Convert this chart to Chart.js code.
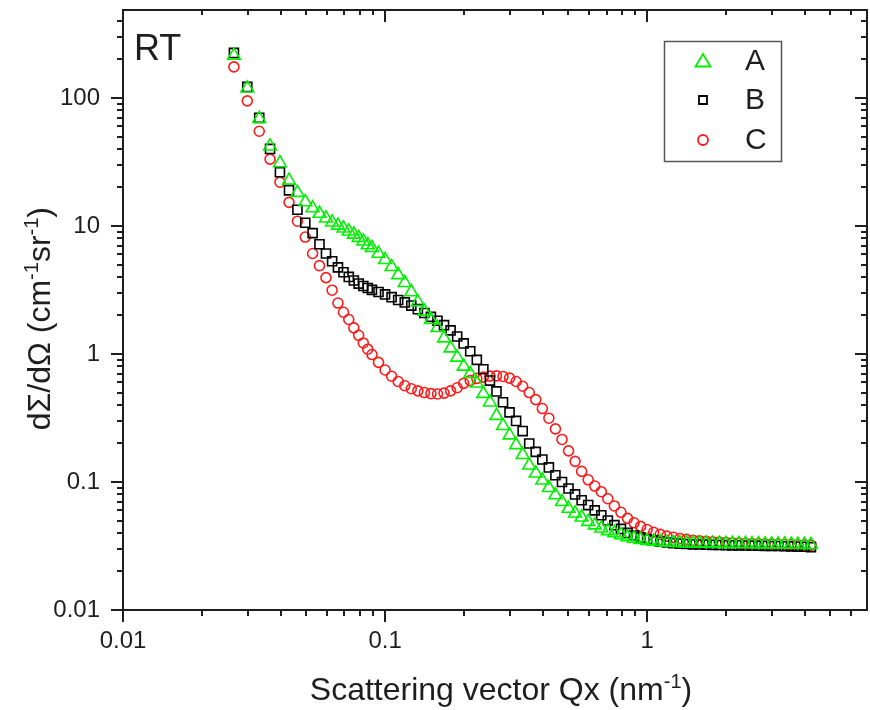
<!DOCTYPE html>
<html><head><meta charset="utf-8">
<script src="https://cdn.jsdelivr.net/npm/chart.js@4.4.1/dist/chart.umd.min.js"></script>
<style>html,body{margin:0;padding:0;background:#fff;}#wrap{width:870px;height:710px;}</style>
</head><body><div id="wrap"><canvas id="c" width="870" height="710"></canvas></div>
<script>
// Scattering vector Qx (nm^-1)
const qValues = [0.0265,0.0298,0.0331,0.0364,0.0397,0.0430,0.0463,0.0496,0.0529,0.0562,0.0595,0.0628,0.0661,0.0694,0.0727,0.0760,0.0793,0.0826,0.0859,
0.0891,0.0944,0.1000,0.1059,0.1122,0.1189,0.1259,0.1334,0.1413,0.1496,
0.1585,0.1679,0.1778,0.1884,0.1995,0.2113,0.2239,0.2371,0.2512,0.2661,
0.2818,0.2985,0.3162,0.3350,0.3548,0.3758,0.3981,0.4217,0.4467,0.4732,
0.5012,0.5309,0.5623,0.5957,0.6310,0.6683,0.7079,0.7499,0.7943,0.8414,
0.8913,0.9441,1.000,1.059,1.122,1.189,1.259,1.334,1.413,1.496,
1.585,1.679,1.778,1.884,1.995,2.113,2.239,2.371,2.512,2.661,
2.818,2.985,3.162,3.350,3.548,3.758,3.981,4.217];
// dSigma/dOmega (cm^-1 sr^-1)
const seriesA = [215,119,69,42,31,22.7,18.2,15.4,13.8,12.5,11.5,10.7,10.1,9.6,9.1,8.6,8.1,7.6,7.1,
6.75,6.1,5.45,4.8,4.15,3.6,3.05,2.55,2.15,1.85,
1.6,1.33,1.11,0.94,0.80,0.70,0.59,0.49,0.42,0.33,
0.275,0.232,0.195,0.163,0.135,0.117,0.103,0.090,0.079,0.070,
0.062,0.057,0.053,0.049,0.046,0.0435,0.0415,0.040,0.0385,0.0372,
0.0362,0.0354,0.0348,0.0343,0.0340,0.0337,0.0335,0.0334,0.0333,0.0332,
0.0332,0.0331,0.0331,0.0330,0.0330,0.0330,0.0329,0.0329,0.0328,0.0328,
0.0327,0.0327,0.0326,0.0326,0.0325,0.0325,0.0324,0.0323];
const seriesB = [225,122,70,40,26.3,19.0,13.4,10.6,8.8,7.2,6.1,5.3,4.75,4.35,4.0,3.75,3.55,3.4,3.28,
3.17,3.05,2.92,2.78,2.64,2.53,2.39,2.24,2.09,1.95,
1.82,1.68,1.53,1.37,1.21,1.05,0.90,0.76,0.62,0.51,
0.42,0.35,0.30,0.25,0.200,0.172,0.150,0.130,0.113,0.100,
0.089,0.080,0.072,0.066,0.060,0.055,0.050,0.046,0.043,0.040,
0.0382,0.0368,0.0357,0.0349,0.0342,0.0337,0.0333,0.0330,0.0328,0.0326,
0.0325,0.0324,0.0323,0.0322,0.0321,0.0320,0.0320,0.0319,0.0318,0.0318,
0.0317,0.0316,0.0316,0.0315,0.0314,0.0313,0.0312,0.0310];
const seriesC = [175,95,55,33.3,22.0,15.3,10.9,8.2,6.1,4.9,3.95,3.15,2.5,2.12,1.86,1.6,1.40,1.22,1.09,
0.99,0.86,0.75,0.67,0.61,0.565,0.535,0.515,0.50,0.49,
0.487,0.495,0.515,0.545,0.59,0.62,0.645,0.66,0.672,0.675,
0.668,0.648,0.61,0.56,0.50,0.44,0.375,0.315,0.26,0.215,
0.175,0.145,0.121,0.104,0.093,0.084,0.074,0.065,0.058,0.052,
0.048,0.045,0.0425,0.0405,0.0390,0.0378,0.0370,0.0362,0.0356,0.0351,
0.0347,0.0344,0.0341,0.0339,0.0337,0.0335,0.0333,0.0331,0.0330,0.0329,
0.0328,0.0327,0.0326,0.0325,0.0324,0.0323,0.0322,0.0321];
const seriesNames = ['A','B','C'];
const xTickLabels = ['0.01','0.1','1'];
const yTickLabels = ['0.01','0.1','1','10','100'];
const panelLabel = 'RT';
const xTitleParts = [['Scattering vector Qx (nm',false],['-1',true],[')',false]];
const yTitleParts = [['d\u03A3/d\u03A9 (cm',false],['-1',true],['sr',false],['-1',true],[')',false]];

const FONT = '"Liberation Sans", Arial, Helvetica, sans-serif';
const INK = '#1e1e1e';
const COLORS = ['#00f000','#000000','#ff1a1a'];
const STYLES = ['triangle','rect','circle'];
const RADII = [7.4,6.4,5.0];

function pts(vals){ return qValues.map((q,i)=>({x:q,y:vals[i]})); }
function labelFor(v, list){
  for (const s of list){ const t = parseFloat(s); if (Math.abs(v - t) <= t*1e-6) return s; }
  return '';
}

const datasets = [seriesA, seriesB, seriesC].map((vals,i)=>({
  label: seriesNames[i], data: pts(vals), showLine:false,
  pointStyle: STYLES[i], pointRadius: RADII[i], pointHoverRadius: RADII[i],
  borderColor: COLORS[i], pointBorderColor: COLORS[i],
  backgroundColor:'rgba(0,0,0,0)', pointBackgroundColor:'rgba(0,0,0,0)',
  pointBorderWidth:1.6
}));

function logTicks(min,max){
  const out=[];
  for(let e=Math.floor(Math.log10(min))-1;e<=Math.ceil(Math.log10(max));e++){
    for(let k=1;k<=9;k++){ const v=k*Math.pow(10,e); if(v>=min*0.9999 && v<=max*1.0001) out.push({v,major:k===1}); }
  }
  return out;
}

function drawRich(ctx, parts, size){
  let x=0;
  for(const [t,sup] of parts){
    ctx.font = (sup? Math.round(size*0.62): size)+'px '+FONT;
    ctx.fillText(t, x, sup? -size*0.38 : 0);
    x += ctx.measureText(t).width;
  }
  return x;
}
function richWidth(ctx, parts, size){
  let w=0;
  for(const [t,sup] of parts){ ctx.font=(sup? Math.round(size*0.62): size)+'px '+FONT; w+=ctx.measureText(t).width; }
  return w;
}

function noPad(s){ s.paddingTop=0; s.paddingBottom=0; s.paddingLeft=0; s.paddingRight=0; }

const decor = {
  id:'decor',
  afterDraw(chart){
    const ctx=chart.ctx, a=chart.chartArea, xs=chart.scales.x, ys=chart.scales.y;
    ctx.save();
    ctx.strokeStyle=INK; ctx.lineWidth=2; ctx.lineCap='butt';
    ctx.strokeRect(a.left, a.top, a.right-a.left, a.bottom-a.top);
    const MAJ=12, MIN=6;
    ctx.beginPath();
    for(const t of logTicks(xs.min, xs.max)){
      const p=Math.round(xs.getPixelForValue(t.v));
      const L=t.major?MAJ:MIN;
      ctx.moveTo(p,a.bottom); ctx.lineTo(p,a.bottom+L);
      ctx.moveTo(p,a.top); ctx.lineTo(p,a.top+(t.major?MAJ:5));
    }
    for(const t of logTicks(ys.min, ys.max)){
      const p=Math.round(ys.getPixelForValue(t.v));
      const L=t.major?MAJ:MIN;
      ctx.moveTo(a.left,p); ctx.lineTo(a.left-L,p);
      ctx.moveTo(a.right,p); ctx.lineTo(a.right-L,p);
    }
    ctx.stroke();

    ctx.fillStyle=INK; ctx.textAlign='left'; ctx.textBaseline='alphabetic';
    ctx.font='36px '+FONT;
    ctx.fillText(panelLabel, a.left+11, a.top+50);

    const ts=32;
    const wx=richWidth(ctx,xTitleParts,ts);
    ctx.save(); ctx.translate(501 - wx/2, 700); drawRich(ctx,xTitleParts,ts); ctx.restore();
    const wy=richWidth(ctx,yTitleParts,ts);
    ctx.save(); ctx.translate(50, 207 + wy); ctx.rotate(-Math.PI/2); drawRich(ctx,yTitleParts,ts); ctx.restore();

    const bx=664, by=41, bw=117, bh=120;
    ctx.lineWidth=1.5; ctx.strokeStyle='#555';
    ctx.strokeRect(bx+0.5,by+0.5,bw,bh);
    const rowsY=[61,100,140];
    ctx.font='30px '+FONT; ctx.textBaseline='middle';
    for(let i=0;i<3;i++){
      const cx=703, cy=rowsY[i];
      ctx.strokeStyle=COLORS[i]; ctx.lineWidth=1.8;
      ctx.beginPath();
      if(STYLES[i]==='triangle'){ ctx.moveTo(cx,cy-7); ctx.lineTo(cx+7.5,cy+5.5); ctx.lineTo(cx-7.5,cy+5.5); ctx.closePath(); }
      else if(STYLES[i]==='rect'){ ctx.rect(cx-4,cy-4,8,8); }
      else { ctx.arc(cx,cy,5,0,Math.PI*2); }
      ctx.stroke();
      ctx.fillStyle=INK; ctx.fillText(seriesNames[i], 745, cy+1);
    }
    ctx.restore();
  }
};

new Chart(document.getElementById('c'), {
  type:'scatter',
  data:{datasets},
  options:{
    responsive:false, animation:false, devicePixelRatio:1,
    layout:{autoPadding:false, padding:{top:10,right:3,left:0,bottom:0}},
    plugins:{legend:{display:false}, tooltip:{enabled:false}},
    scales:{
      x:{type:'logarithmic', position:'bottom', min:0.01, max:6.9,
        grid:{display:false, drawTicks:false}, border:{display:false},
        ticks:{autoSkip:false, maxRotation:0, padding:17, color:INK, font:{family:FONT,size:24},
          callback:(v)=>labelFor(v,xTickLabels)},
        afterFit:(s)=>{s.height=100; noPad(s);}},
      y:{type:'logarithmic', position:'left', min:0.01, max:487,
        grid:{display:false, drawTicks:false}, border:{display:false},
        ticks:{autoSkip:false, padding:23, color:INK, font:{family:FONT,size:24},
          callback:(v)=>labelFor(v,yTickLabels)},
        afterFit:(s)=>{s.width=123; noPad(s);}}
    }
  },
  plugins:[decor]
});
</script></body></html>
